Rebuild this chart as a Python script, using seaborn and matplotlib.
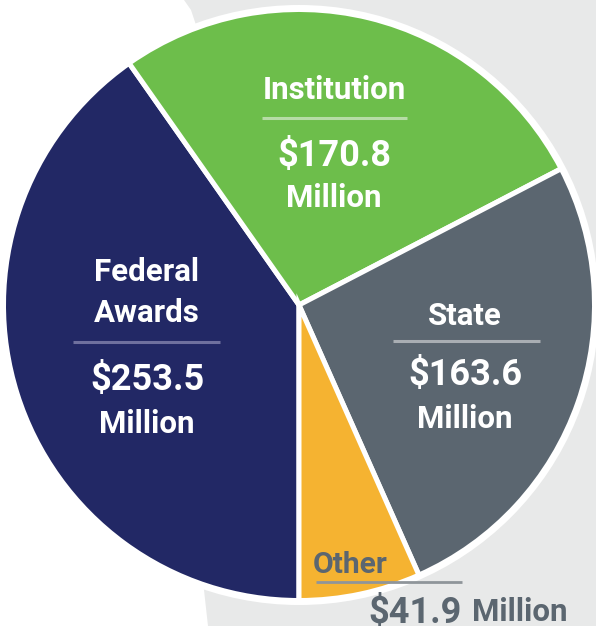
import matplotlib
matplotlib.use("Agg")
import matplotlib.pyplot as plt
import seaborn as sns
from matplotlib.patches import Polygon, Circle

# ---- data ----
categories = ["Federal\nAwards", "Institution", "State", "Other"]
values = [253.5, 170.8, 163.6, 41.9]
unit = "Million"
colors = ["#222865", "#6DBE4B", "#5B6670", "#F5B331"]

sns.set_theme(style="white")
plt.rcParams["font.family"] = ["Roboto", "DejaVu Sans"]

W, H = 596, 626
fig = plt.figure(figsize=(W / 100, H / 100), dpi=100)
ax = fig.add_axes([0, 0, 1, 1])


def Y(y):
    return H - y


# light grey background panel on the right
bg = Polygon([(184, Y(0)), (191, Y(10)), (197, Y(28)), (204, Y(590)), (208, Y(626)),
              (W, Y(626)), (W, Y(0))], closed=True, facecolor="#E8E9E9",
             edgecolor="none", zorder=0.2)
ax.add_patch(bg)

cx, cy = 299, Y(305)
ax.add_patch(Circle((cx, cy), 300, facecolor="white", edgecolor="none", zorder=0.5))

ax.pie(values, colors=colors, startangle=270, counterclock=False,
       center=(cx, cy), radius=295.5,
       wedgeprops=dict(edgecolor="white", linewidth=3.6), frame=False)

ax.set_xlim(0, W)
ax.set_ylim(0, H)
ax.set_aspect("equal")
ax.axis("off")

NAME_FS = 22.5
NUM_FS = 26
MIL_FS = 22.5
NAME_W = "semibold"
MIL_W = "semibold"


def label_block(x, name_lines, name_bases, line_y, x0, x1, line_col, num_base, mil_base,
                value, txtcol="white"):
    for t, b in zip(name_lines, name_bases):
        ax.text(x, Y(b), t, ha="center", va="baseline", fontsize=NAME_FS,
                fontweight=NAME_W, color=txtcol, zorder=5)
    ax.plot([x0, x1], [Y(line_y), Y(line_y)], color=line_col, lw=2.2,
            solid_capstyle="butt", zorder=5)
    ax.text(x, Y(num_base), f"${value:.1f}", ha="center", va="baseline",
            fontsize=NUM_FS, fontweight="bold", color=txtcol, zorder=5)
    ax.text(x, Y(mil_base), unit, ha="center", va="baseline", fontsize=MIL_FS,
            fontweight=MIL_W, color=txtcol, zorder=5)


# Federal
label_block(147, categories[0].split("\n"), [281, 322], 342, 73, 220, "#6F709E",
            390, 433, values[0])
# Institution
label_block(334, [categories[1]], [99], 118, 262, 407, "#B6DCA6",
            166, 207, values[1])
# State
label_block(465, [categories[2]], [325], 341, 393, 540, "#A9AEB3",
            385, 428, values[2])

# Other (outside-ish, grey text)
gcol = "#5B6670"
ax.text(313, Y(573), categories[3], ha="left", va="baseline", fontsize=NAME_FS * 0.96,
        fontweight=NAME_W, color=gcol, zorder=5)
ax.plot([316, 462], [Y(582), Y(582)], color="#8F959A", lw=2.0,
        solid_capstyle="butt", zorder=5)
ax.text(368, Y(623), f"${values[3]:.1f}", ha="left", va="baseline", fontsize=NUM_FS,
        fontweight="bold", color=gcol, zorder=5)
ax.text(472, Y(621), unit, ha="left", va="baseline", fontsize=MIL_FS,
        fontweight="bold", color=gcol, zorder=5)

fig.savefig("out.png", dpi=100)
